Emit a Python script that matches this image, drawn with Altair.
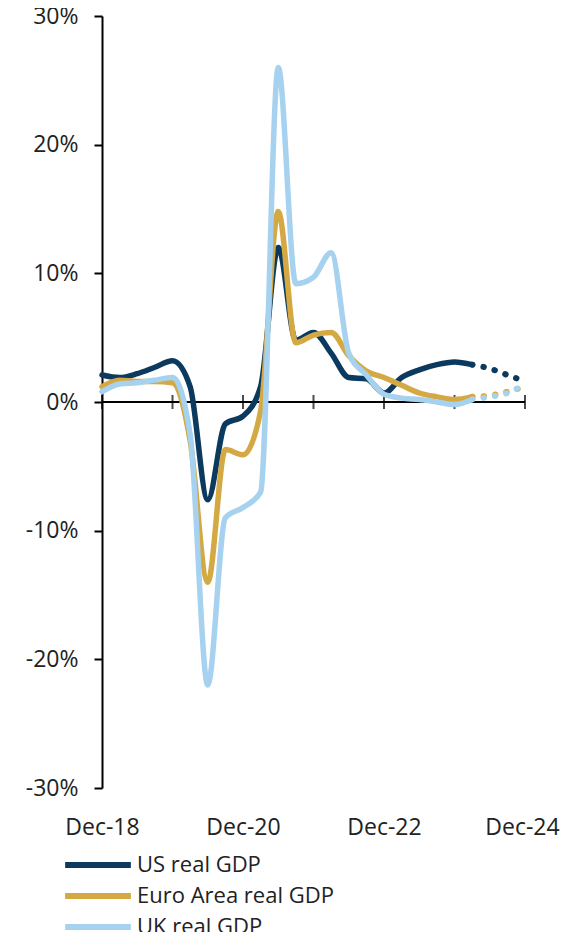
import altair as alt
import pandas as pd

quarters = ["Dec-18", "Mar-19", "Jun-19", "Sep-19", "Dec-19", "Mar-20", "Jun-20", "Sep-20",
            "Dec-20", "Mar-21", "Jun-21", "Sep-21", "Dec-21", "Mar-22", "Jun-22", "Sep-22",
            "Dec-22", "Mar-23", "Jun-23", "Sep-23", "Dec-23", "Mar-24", "Jun-24", "Sep-24",
            "Dec-24"]
# last 4 points (from Mar-24) are forecasts drawn dotted
n_actual = 22

us = [2.1, 1.9, 2.2, 2.7, 3.2, 1.2, -7.6, -1.7, -1.1, 1.2, 12.0, 4.8, 5.4, 3.8, 1.9, 1.8,
      0.7, 1.9, 2.5, 2.9, 3.1, 2.9, 2.6, 2.1, 1.6]
ea = [1.2, 1.7, 1.6, 1.6, 1.5, -3.0, -14.0, -3.7, -4.1, -0.7, 14.8, 4.6, 5.2, 5.4, 3.6, 2.4,
      1.9, 1.3, 0.7, 0.4, 0.2, 0.4, 0.5, 0.8, 1.2]
uk = [0.8, 1.4, 1.5, 1.7, 1.9, -2.5, -22.0, -9.0, -8.2, -7.0, 26.0, 9.2, 9.7, 11.6, 3.8, 2.1,
      0.6, 0.3, 0.2, 0.0, -0.2, 0.2, 0.4, 0.7, 1.4]

series_names = ["US real GDP", "Euro Area real GDP", "UK real GDP"]
series_colors = ["#0b3a5e", "#d4a843", "#a6d2f0"]
y_ticks = [-30, -20, -10, 0, 10, 20, 30]

rows = []
for name, vals in zip(series_names, [us, ea, uk]):
    for i, (q, v) in enumerate(zip(quarters, vals)):
        rows.append({"series": name, "q": i, "quarter": q, "value": v})
df = pd.DataFrame(rows)
actual = df[df["q"] < n_actual]
forecast = df[df["q"] >= n_actual - 1]

year_ticks = pd.DataFrame({"q": [i for i, q in enumerate(quarters) if q.startswith("Dec")]})
label_vals = [i for i, q in enumerate(quarters) if q.startswith("Dec") and int(q[-2:]) % 2 == 0]
label_expr = "[" + ",".join("'" + q + "'" for q in quarters) + "][datum.value]"
last_q = len(quarters) - 1

FONT = "Open Sans"

xscale = alt.Scale(domain=[0, last_q], nice=False, zero=False)
yscale = alt.Scale(domain=[-30, 30], nice=False)
color = alt.Color("series:N",
                  scale=alt.Scale(domain=series_names, range=series_colors),
                  legend=alt.Legend(title=None, orient="none", legendX=-18, legendY=835,
                                    symbolType="M-3,0H3", symbolSize=480,
                                    symbolStrokeWidth=6,
                                    labelFontSize=22, labelLimit=400,
                                    labelFont=FONT, labelColor="#222", padding=0,
                                    labelOffset=25, rowPadding=5))

x_enc = alt.X("q:Q", scale=xscale,
              axis=alt.Axis(title=None, values=label_vals, labelExpr=label_expr,
                            domain=False, ticks=False, grid=False, labelPadding=28,
                            labelFontSize=23, labelFont=FONT, labelColor="#222",
                            labelFlush=False,
                            labelOffset={"condition": {"test": f"datum.value === {last_q}",
                                                       "value": -3},
                                         "value": 0}))
y_enc = alt.Y("value:Q", scale=yscale,
              axis=alt.Axis(title=None, values=y_ticks, labelExpr="datum.value + '%'",
                            grid=False, domainColor="black", domainWidth=2,
                            tickColor="black", tickWidth=2, tickSize=8, labelPadding=16,
                            labelFontSize=23, labelFont=FONT, labelColor="#222"))

zero = alt.Chart(year_ticks).mark_rule(color="black", strokeWidth=2).encode(
    y=alt.datum(0, scale=yscale))
ticks = alt.Chart(year_ticks).mark_tick(color="black", thickness=2, size=14,
                                         orient="vertical").encode(
    x=alt.X("q:Q", scale=xscale), y=alt.datum(0, scale=yscale))

solid = alt.Chart(actual).mark_line(strokeWidth=5.5, interpolate="monotone",
                                     strokeCap="round").encode(
    x=x_enc, y=y_enc, color=color, order="q:Q")
dotted = alt.Chart(forecast).mark_line(strokeWidth=6, interpolate="monotone",
                                        strokeCap="round", strokeDash=[0.5, 11]).encode(
    x=alt.X("q:Q", scale=xscale), y=alt.Y("value:Q", scale=yscale),
    color=alt.Color("series:N", scale=alt.Scale(domain=series_names, range=series_colors),
                    legend=None),
    order="q:Q")

chart = alt.layer(zero, ticks, solid, dotted).properties(
    width=423, height=772,
    autosize=alt.AutoSizeParams(type="none"),
    padding={"left": 94, "top": 8, "right": 35, "bottom": 160},
).configure_view(stroke=None)

chart.save("out.html", embed_options={"renderer": "svg", "actions": False})
